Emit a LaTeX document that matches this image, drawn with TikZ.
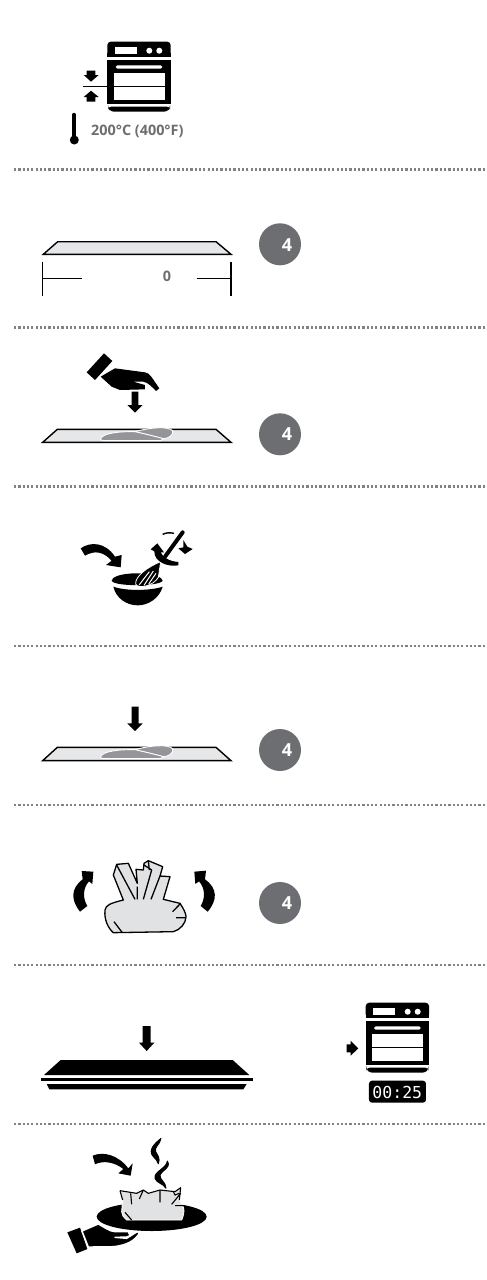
\documentclass[tikz,border=0pt]{standalone}
\usepackage{fontspec}
\setmainfont{Open Sans}
\newfontfamily\monof{DejaVu Sans Mono}
\definecolor{txtg}{HTML}{6D6E71}
\definecolor{sepg}{HTML}{808285}
\definecolor{tray}{HTML}{E6E7E8}
\definecolor{dough}{HTML}{939598}
\definecolor{bag}{HTML}{E1E2E4}
\tikzset{
  sep/.style={draw=sepg,line width=2.1pt,dash pattern=on 2.2pt off 2.1pt},
  lbl/.style={text=txtg,font=\bfseries\fontsize{14.4}{15}\selectfont,inner sep=0pt},
  badge/.style={circle,fill=txtg,minimum size=42pt,inner sep=0pt},
  four/.style={text=white,font=\bfseries\fontsize{18}{19}\selectfont,inner sep=0pt},
  zoomA/.style={x=0.33333pt,y=-0.33333pt},
  trayline/.style={draw=black,fill=tray,line width=1.4pt,line join=miter},
  dimline/.style={black,line width=1.6pt},
  lobe/.style={draw=white,line width=0.9pt,fill=dough,line join=round},
  pics/doughpic/.style={code={
    \draw[lobe] (315,275) .. controls (360,262) and (415,258) .. (428,272) .. controls (432,285) and (415,296) .. (400,296) -- cycle;
    \draw[lobe] (212,296) .. controls (218,280) and (265,274) .. (315,275) .. controls (345,282) and (380,290) .. (400,296) -- (392,302) -- (225,302) .. controls (215,302) and (211,300) .. (212,296) -- cycle;
  }},
  pics/oven/.style={code={
    \fill[black,rounded corners=3.5pt] (107.3,56.7) -- (107.3,41.7) -- (170.7,41.7) -- (170.7,56.7) -- cycle;
    \fill[black] (107.3,53) rectangle (170.7,56.7);
    \fill[white] (115,47.3) rectangle (136.7,54);
    \fill[white] (149.3,50.7) circle (3);
    \fill[white] (159.3,50.7) circle (3);
    \fill[black] (107.3,60) rectangle (170.7,104);
    \fill[white] (114,72.7) rectangle (165,100);
    \fill[white,rounded corners=1.6pt] (115.7,65.3) rectangle (162.3,68.7);
    \draw[black,line width=1.2pt] (114,86.7) -- (165,86.7);
    \fill[black,rounded corners=3pt] (108,106.7) -- (170,106.7) -- (170,108) -- (167,111.7) -- (111,111.7) -- (108,108) -- cycle;
  }}
}
\begin{document}
\begin{tikzpicture}[x=1pt,y=-1pt]
\useasboundingbox[fill=white] (0,0) rectangle (487,1280);
% separators
\foreach \yy in {169.5,327.5,486.5,646,805,965,1124}
  \draw[sep] (14,\yy) -- (487,\yy);
% step 1
\pic at (0,0) {oven};
\draw[black,line width=1.2pt] (82.7,86.7) -- (114,86.7);
\fill[black] (86.7,70.7) -- (95.3,70.7) -- (95.3,75) -- (98.7,75) -- (91,81.7) -- (83.7,75) -- (86.7,75) -- cycle;
\fill[black] (86.7,101.7) -- (95.3,101.7) -- (95.3,97) -- (98.7,97) -- (91,90.7) -- (83.7,97) -- (86.7,97) -- cycle;
\draw[black,line width=3.4pt,line cap=round] (74,114.5) -- (74,136);
\fill[black] (74.3,140) circle (4.5);
\node[lbl,anchor=west] (temp) at (91,131) {200°C (400°F)};
% step 2
\draw[trayline] (43.3,254.3) -- (57.7,241.7) -- (216,241.7) -- (231,254.3) -- cycle;
\draw[dimline] (42.3,261.7) -- (42.3,296);
\draw[dimline] (231,261.7) -- (231,296);
\draw[dimline] (42.3,278.3) -- (82.3,278.3);
\draw[dimline] (196.7,278.3) -- (231,278.3);
\node[lbl] (zero) at (167,276.5) {0};
\node[badge] (b1) at (280,244.3) {};
\node[four] (f1) at (287,245) {4};
% step 3
\begin{scope}[shift={(30,340)},zoomA]
\draw[trayline] (38,307) -- (82,268) -- (558,268) -- (603,307) -- cycle;
\fill[black] (170,97) -- (222,40) -- (247,63) -- (195,120) -- cycle;
\fill[black] (212,110) -- (255,85) -- (345,97) .. controls (360,100) and (362,108) .. (388,145) -- (378,153) .. controls (365,140) and (355,128) .. (340,125) -- (310,125) -- (345,135) -- (345,148) -- (270,150) -- (245,140) -- cycle;
\fill[black] (305,155) -- (325,155) -- (325,195) -- (338,195) -- (315,218) -- (292,195) -- (305,195) -- cycle;
\draw[lobe] (315,275) .. controls (360,262) and (415,258) .. (428,272) .. controls (432,285) and (415,296) .. (400,296) -- cycle;
\draw[lobe] (212,296) .. controls (218,280) and (265,274) .. (315,275) .. controls (345,282) and (380,290) .. (400,296) -- (392,302) -- (225,302) .. controls (215,302) and (211,300) .. (212,296) -- cycle;
\end{scope}
\node[badge] (b2) at (280,434.3) {};
\node[four] (f2) at (287,434.5) {4};
% step 4
\begin{scope}[shift={(70,490)},zoomA]
\fill[black] (32,175) .. controls (60,155) and (105,155) .. (135,200) -- (155,195) -- (152,232) -- (108,225) -- (125,212) .. controls (100,185) and (75,180) .. (45,197) -- cycle;
\fill[black] (200,250) .. controls (250,250) and (278,262) .. (278,272) .. controls (270,290) and (130,290) .. (125,272) .. controls (125,262) and (150,250) .. (200,250) -- cycle;
\draw[white,line width=1pt] (125,283) .. controls (160,298) and (245,298) .. (282,283);
\fill[black] (130,290) .. controls (165,303) and (240,303) .. (278,290) .. controls (268,325) and (235,346) .. (203,346) .. controls (170,346) and (138,325) .. (130,290) -- cycle;
\draw[black,line width=4pt,line cap=round] (338,127) -- (285,200);
\draw[draw=white,fill=black,line width=0.8pt] (272,215) -- (265,262) .. controls (250,288) and (205,298) .. (197,282) .. controls (195,260) and (230,232) .. (272,215) -- cycle;
\draw[white,line width=1pt] (208,284) -- (238,245);
\draw[white,line width=1pt] (222,286) -- (250,243);
\draw[white,line width=1pt] (236,282) -- (258,250);
\fill[black] (340,150) -- (352,170) -- (368,177) -- (345,192) -- (325,175) -- (340,172) -- cycle;
\fill[black] (242,178) -- (262,160) -- (282,187) -- (272,187) .. controls (278,203) and (300,214) .. (325,216) -- (325,226) .. controls (292,232) and (252,215) .. (253,184) -- cycle;
\draw[black,line width=1.4pt] (278,133) .. controls (288,128) and (300,127) .. (312,130);
\end{scope}
% step 5
\begin{scope}[shift={(30,690)},zoomA]
\fill[black] (305,50) -- (326,50) -- (326,100) -- (338,100) -- (315,123) -- (292,100) -- (305,100) -- cycle;
\draw[trayline] (38,212) -- (82,172) -- (558,172) -- (603,212) -- cycle;
\end{scope}
\begin{scope}[shift={(30,658)},zoomA]
\pic at (0,0) {doughpic};
\end{scope}
\node[badge] (b3) at (280,750) {};
\node[four] (f3) at (287,750) {4};
% step 6
\begin{scope}[shift={(60,820)},zoomA]
\fill[black] (60,275) .. controls (32,240) and (32,205) .. (68,178) -- (65,153) -- (100,155) -- (97,192) -- (87,184) .. controls (68,205) and (68,235) .. (82,258) -- cycle;
\fill[black] (443,275) .. controls (473,240) and (473,205) .. (435,178) -- (438,152) -- (403,155) -- (406,192) -- (417,184) .. controls (436,205) and (436,235) .. (422,258) -- cycle;
\draw[black,fill=bag,line width=1.3pt,line join=round] (135,270) .. controls (138,255) and (150,250) .. (190,240) -- (160,165) -- (170,133) -- (205,130) -- (232,190) -- (228,148) -- (250,150) -- (252,130) -- (265,122) -- (308,140) -- (300,168) -- (330,170) -- (310,238) -- (360,250) .. controls (370,265) and (378,280) .. (378,290) .. controls (378,310) and (360,330) .. (340,335) -- (160,338) .. controls (145,325) and (132,300) .. (135,270) -- cycle;
\draw[black,line width=1.3pt] (170,135) -- (225,238) (232,200) -- (232,238) (275,150) -- (250,238) (300,168) -- (273,238) (252,135) -- (275,150) (265,122) -- (268,150) (362,250) -- (338,275) (348,293) -- (378,293) (162,305) -- (187,338);
\end{scope}
\node[badge] (b4) at (280,903) {};
\node[four] (f4) at (287,903) {4};
% step 7
\begin{scope}[shift={(30,990)},zoomA]
\fill[black] (338,108) -- (362,108) -- (362,158) -- (373,158) -- (350,183) -- (327,158) -- (338,158) -- cycle;
\fill[black] (92,210) -- (608,210) -- (658,255) -- (42,255) -- cycle;
\fill[black] (32,264) rectangle (668,272);
\fill[black] (50,282) -- (650,282) -- (640,298) -- (58,298) -- cycle;
\fill[black] (950,163) -- (962,163) -- (962,152) -- (985,175) -- (962,197) -- (962,187) -- (950,187) -- cycle;
\fill[black,rounded corners=3pt] (1017,272) rectangle (1188,338);
\node[text=white,inner sep=0pt,font=\monof\fontsize{16.5}{17}\selectfont] (timer) at (1102,307) {00:25};
\end{scope}
\pic at (258.4,961) {oven};
% step 8
\begin{scope}[shift={(60,1125)},zoomA]
\draw[black,fill=black,line width=0.9pt,line join=round] (303,40) .. controls (285,55) and (262,75) .. (280,95) .. controls (288,103) and (293,108) .. (295,116) .. controls (302,100) and (292,90) .. (287,80) .. controls (282,65) and (300,60) .. (303,40) -- cycle;
\draw[black,fill=black,line width=0.9pt,line join=round] (322,108) .. controls (320,130) and (280,140) .. (285,160) .. controls (290,175) and (310,175) .. (318,190) .. controls (318,170) and (298,165) .. (300,150) .. controls (305,135) and (335,130) .. (322,108) -- cycle;
\fill[black] (98,92) .. controls (130,78) and (175,90) .. (205,130) -- (218,115) -- (212,152) -- (175,145) -- (190,132) .. controls (165,112) and (130,105) .. (105,118) -- cycle;
\fill[black] (275,232) .. controls (366,232) and (440,251) .. (440,275) .. controls (440,299) and (366,318) .. (275,318) .. controls (184,318) and (110,299) .. (110,275) .. controls (110,251) and (184,232) .. (275,232) -- cycle;
\draw[white,fill=bag,line width=0.9pt,line join=round] (180,197) -- (230,205) -- (250,195) -- (265,205) -- (300,195) -- (345,200) -- (362,188) -- (358,225) .. controls (370,240) and (378,255) .. (365,285) -- (200,285) .. controls (190,275) and (185,270) .. (185,260) -- (188,225) -- cycle;
\draw[black,line width=1.1pt,line join=round] (180,197) -- (230,205) -- (250,195) -- (265,205) -- (300,195) -- (345,200) -- (362,188) -- (358,225);
\draw[black,line width=1.1pt] (180,197) -- (188,225) (212,205) -- (215,238) (250,195) -- (238,222) (300,195) -- (300,232) (362,205) -- (335,238) (345,242) -- (372,242) (195,262) -- (215,285) (340,200) -- (345,210) -- (358,205);
\fill[black] (22,322) -- (60,308) -- (82,372) -- (50,385) -- cycle;
\draw[draw=white,fill=black,line width=1.4pt,line join=round] (66,318) -- (115,297) .. controls (130,305) and (150,320) .. (165,320) -- (205,320) -- (210,332) -- (200,336) -- (165,337) -- (200,340) -- (232,320) -- (238,325) .. controls (225,345) and (205,360) .. (160,365) -- (85,366) -- cycle;
\end{scope}
\end{tikzpicture}
\end{document}
